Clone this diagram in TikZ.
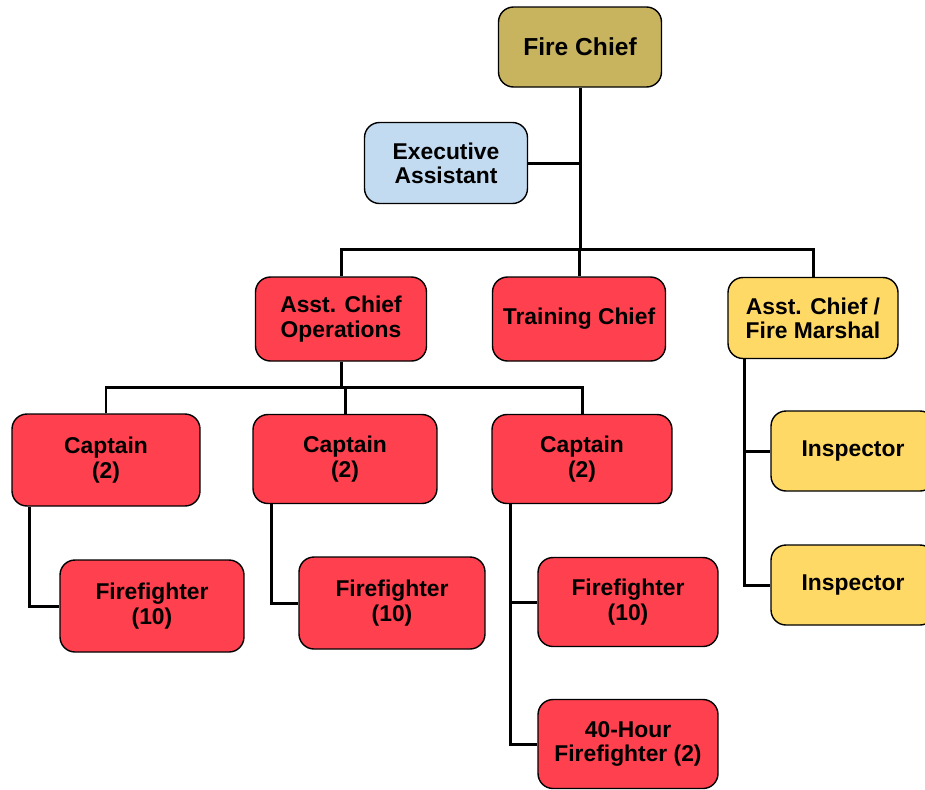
\documentclass[tikz,border=0pt]{standalone}
\usepackage{fontspec}
\setmainfont{Liberation Sans}
\usetikzlibrary{calc}
\definecolor{chiefgold}{HTML}{C8B45E}
\definecolor{assistblue}{HTML}{C3DBF0}
\definecolor{opsred}{HTML}{FF404E}
\definecolor{marshalyellow}{HTML}{FFD966}
\tikzset{
  unit/.style={draw=black, line width=0.8pt, rounded corners=0.3cm, inner sep=0pt,
    align=center, font=\fontsize{13}{13.8}\selectfont\bfseries},
  link/.style={line width=1.7pt},
}

\begin{document}
\begin{tikzpicture}[x=0.02cm, y=-0.02cm]
			%%%%% START %%%%%
			\useasboundingbox (0, 0) rectangle (925, 789);
			
			% top
			\node[unit, fill=chiefgold, minimum width=3.26cm, minimum height=1.6cm,
			  font=\fontsize{14}{15}\selectfont\bfseries] (chief) at (580, 47) {Fire Chief};
			\node[unit, fill=assistblue, minimum width=3.26cm, minimum height=1.62cm] (exec) at (446, 163) {Executive\\Assistant};
			
			% second row
			\node[unit, fill=opsred, minimum width=3.42cm, minimum height=1.68cm] (ops) at (341, 319) {Asst. Chief\\Operations};
			\node[unit, fill=opsred, minimum width=3.46cm, minimum height=1.68cm] (train) at (579, 319) {Training Chief};
			\node[unit, fill=marshalyellow, minimum width=3.4cm, minimum height=1.62cm] (marshal) at (813, 318) {Asst. Chief /\\Fire Marshal};
			
			% captains
			\node[unit, fill=opsred, minimum width=3.76cm, minimum height=1.84cm] (capA) at (106, 460) {Captain\\(2)};
			\node[unit, fill=opsred, minimum width=3.68cm, minimum height=1.78cm] (capB) at (345, 459) {Captain\\(2)};
			\node[unit, fill=opsred, minimum width=3.6cm, minimum height=1.78cm] (capC) at (582, 459) {Captain\\(2)};
			
			% firefighters
			\node[unit, fill=opsred, minimum width=3.68cm, minimum height=1.84cm] (ffA) at (152, 606) {Firefighter\\(10)};
			\node[unit, fill=opsred, minimum width=3.72cm, minimum height=1.84cm] (ffB) at (392, 603) {Firefighter\\(10)};
			\node[unit, fill=opsred, minimum width=3.6cm, minimum height=1.78cm] (ffC) at (628, 602) {Firefighter\\(10)};
			\node[unit, fill=opsred, minimum width=3.6cm, minimum height=1.78cm] (ffD) at (628, 744) {40-Hour\\Firefighter (2)};
			
			% inspectors
			\node[unit, fill=marshalyellow, minimum width=3.28cm, minimum height=1.6cm] (inspA) at (853, 451) {Inspector};
			\node[unit, fill=marshalyellow, minimum width=3.28cm, minimum height=1.6cm] (inspB) at (853, 585) {Inspector};
			
			% links
			\coordinate (topbus) at (580, 249);
			\coordinate (opsbus) at (341, 387);
			\draw[link] (chief.south) -- (chief.south |- topbus);
			\draw[link] (exec.east) -- (exec.east -| chief.south);
			\draw[link] (ops.north) |- (marshal.north |- topbus) -- (marshal.north);
			\draw[link] (train.north) -- (train.north |- topbus);
			
			\draw[link] (ops.south) -- (ops.south |- opsbus);
			\draw[link] (capA.north) |- (capC.north |- opsbus) -- (capC.north);
			\draw[link] (capB.north) -- (capB.north |- opsbus);
			
			\draw[link] ($(capA.south west)+(18, 0)$) |- (ffA.west);
			\draw[link] ($(capB.south west)+(19, 0)$) |- (ffB.west);
			\draw[link] ($(capC.south west)+(19, 0)$) |- (ffD.west);
			\draw[link] (ffC.west -| {$(capC.south west)+(19, 0)$}) -- (ffC.west);
			
			\draw[link] ($(marshal.south west)+(17, 0)$) |- (inspB.west);
			\draw[link] (inspA.west -| {$(marshal.south west)+(17, 0)$}) -- (inspA.west);
			
			%%%%% END %%%%%
		\end{tikzpicture}
\end{document}
